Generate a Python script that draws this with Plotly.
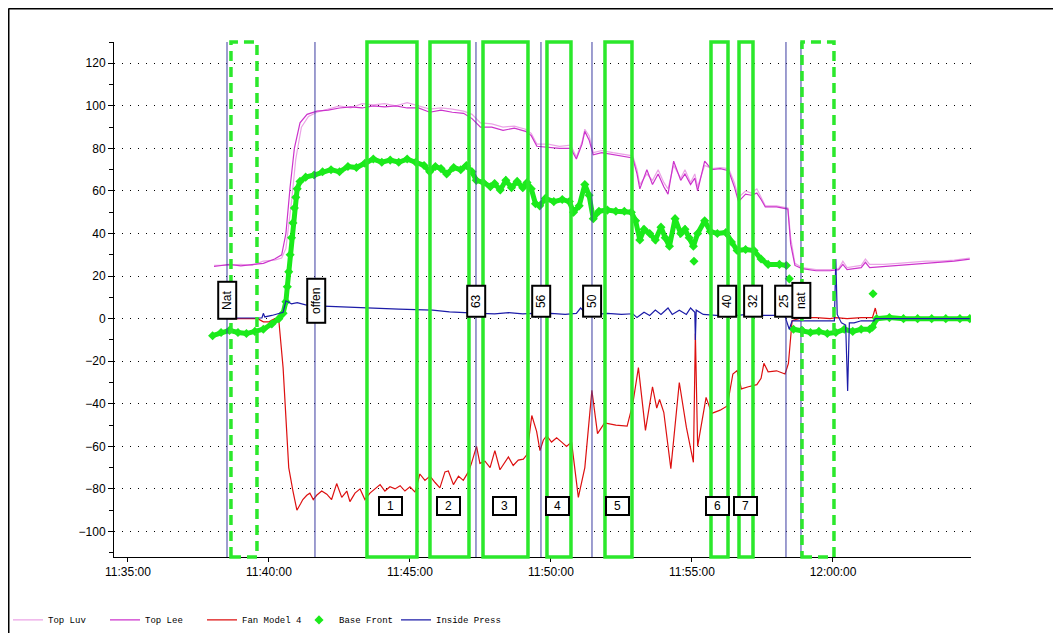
import plotly.graph_objects as go
import pandas as pd

# ---------------- data (times in minutes after 11:00) ----------------
top_lee_min = [38.05, 38.6, 39.0, 39.4, 39.8, 40.2, 40.45, 40.6, 40.75, 40.9, 41.1, 41.35, 41.7, 42.1, 42.5, 42.9,
               43.3, 43.7, 44.1, 44.5, 44.9, 45.3, 45.7, 46.1, 46.5, 46.9, 47.2, 47.5, 47.9, 48.3, 48.7, 49.1,
               49.3, 49.5, 49.9, 50.3, 50.7, 50.9, 51.1, 51.2, 51.35, 51.5, 51.8, 52.2, 52.6, 52.9, 53.05, 53.15,
               53.4, 53.6, 53.8, 54.0, 54.15, 54.35, 54.6, 54.75, 54.95, 55.1, 55.2, 55.45, 55.7, 56.0, 56.3,
               56.5, 56.65, 56.9, 57.1, 57.3, 57.45, 57.6, 58.0, 58.4, 58.5, 58.65, 58.9, 59.4, 59.9, 60.2,
               60.35, 60.5, 61.0, 61.15, 61.3, 61.8, 62.3, 62.8, 63.3, 63.8, 64.3, 64.85]
top_lee_val = [24.5, 25.5, 24.8, 25.5, 26, 28, 30, 40, 62, 80, 92, 96, 97.5, 98, 99, 99.5,
               99, 100, 99.5, 100, 99, 99, 97, 98, 97, 96.5, 94, 90, 90, 88.5, 89.5, 88,
               86, 81, 80.5, 80, 80, 75, 82, 88, 84, 77, 78, 77, 76, 75.5, 68, 61,
               70, 63, 68, 62, 58.5, 74, 65, 68, 63, 66, 60, 74, 70, 70.5, 69.5,
               62, 55, 58.5, 58, 59, 56, 52.5, 52.5, 51.5, 35, 25, 23.5, 22.5, 22.5, 23,
               25.5, 23, 24, 26.5, 24, 24.5, 25, 25.5, 26, 26.5, 27, 28]

top_luv_min = [38.05, 38.6, 39.0, 39.4, 39.8, 40.2, 40.45, 40.6, 40.8, 40.95, 41.15, 41.4, 41.7, 42.1, 42.5, 42.9,
               43.3, 43.7, 44.1, 44.5, 44.9, 45.3, 45.7, 46.1, 46.5, 46.9, 47.2, 47.5, 47.9, 48.3, 48.7, 49.1,
               49.3, 49.5, 49.9, 50.3, 50.7, 50.9, 51.1, 51.2, 51.35, 51.5, 51.8, 52.2, 52.6, 52.9, 53.05, 53.15,
               53.4, 53.6, 53.8, 54.0, 54.15, 54.35, 54.6, 54.75, 54.95, 55.1, 55.2, 55.45, 55.7, 56.0, 56.3,
               56.5, 56.65, 56.9, 57.1, 57.3, 57.45, 57.6, 58.0, 58.4, 58.5, 58.65, 58.9, 59.4, 59.9, 60.2,
               60.35, 60.5, 61.0, 61.15, 61.3, 61.8, 62.3, 62.8, 63.3, 63.8, 64.3, 64.85]
top_luv_val = [25, 25, 25.5, 25, 27, 27.5, 28.5, 33, 55, 75, 90, 95, 97, 98.5, 100, 99,
               101, 100.5, 101, 100, 101.5, 100, 98.5, 99, 98.5, 97.5, 96, 92, 91.5, 90, 90.5, 89,
               87, 82, 82, 81, 81.5, 76, 83, 89, 86, 78, 79, 78, 77, 76.5, 70, 63,
               68, 65, 70, 64, 61, 72, 66, 70, 64, 68, 62, 72, 70.5, 71, 70.5,
               64, 57, 60, 59, 61, 57, 53, 53, 52, 38, 26, 24, 23, 23, 23.5,
               27, 24, 25, 28, 25.5, 25.5, 26, 26.5, 27, 27, 27.5, 28.5]

fan_min = [38.55, 39.0, 39.6, 39.8, 40.0, 40.2, 40.35, 40.5, 40.7, 40.85,
           40.99, 41.12, 41.2, 41.34, 41.45, 41.57, 41.69, 41.87, 42.05, 42.22, 42.4, 42.58, 42.76, 42.87,
           43.05, 43.23, 43.4, 43.58, 43.76, 43.94, 44.11, 44.29, 44.47, 44.65, 44.82, 45.0, 45.18, 45.35,
           45.53, 45.71, 45.89, 46.06, 46.24, 46.36, 46.54, 46.72, 46.89, 47.07, 47.18, 47.36, 47.48, 47.66,
           47.84, 48.01, 48.19, 48.37, 48.49, 48.66, 48.84, 49.02, 49.14, 49.23, 49.32, 49.49, 49.61, 49.73,
           49.85, 50.02, 50.2, 50.38, 50.55, 50.73, 50.85, 50.97, 51.2, 51.45, 51.65,
           51.9, 52.3, 52.7, 52.9, 53.1, 53.35,
           53.6, 53.75, 53.85, 54.0, 54.25, 54.55, 54.8, 55.05, 55.12, 55.2, 55.5, 55.7, 56.0, 56.25, 56.45,
           56.6, 56.75, 57.0, 57.3, 57.45, 57.55, 57.7, 58.0, 58.3, 58.42, 58.55, 58.9, 59.4, 59.9, 60.1,
           60.5, 61.0, 61.4, 61.5, 61.55]
fan_val = [0, 0, 0, -1.5, -1.5, 0, -1, -23, -70, -81,
           -90, -87, -85, -83, -82, -85, -83, -81, -82.5, -85, -77.5, -84, -81, -86,
           -82, -80, -85, -82, -80, -78, -81, -79, -80, -78.5, -81, -79, -81.5, -73,
           -76, -74, -77, -79.5, -72, -71.6, -78, -74, -76, -72, -68, -60, -68, -67,
           -70, -62, -71, -67, -65, -69, -66.5, -66, -64, -55, -45.5, -53, -62, -57,
           -55, -58, -56, -58, -60, -58, -70, -84, -70, -33.7, -54,
           -49, -50, -50.5, -40, -23, -52.5,
           -32, -42, -38, -44, -70.5, -30, -51, -67.5, -7, -60, -37, -44.5, -43, -41, -26,
           -24.4, -33, -32, -31, -28, -21, -25, -24.5, -26, -21, -1, 0.5, 0.5, 0, 0.5,
           0, 0.5, 0.5, 5, 2]

base_min = [38.0, 38.3, 38.6, 38.9, 39.2, 39.5, 39.8, 40.1, 40.35, 40.5, 40.6, 40.65, 40.7, 40.75, 40.8, 40.85,
            40.9, 40.95, 41.0, 41.1, 41.3, 41.6, 41.9, 42.2, 42.5, 42.8, 43.1, 43.4, 43.7, 44.0, 44.3, 44.6,
            44.9, 45.2, 45.5, 45.7, 45.9, 46.1, 46.3, 46.55, 46.8, 47.0, 47.2, 47.35, 47.6, 47.85, 48.0, 48.2,
            48.4, 48.6, 48.8, 49.0, 49.15, 49.3, 49.45, 49.6, 49.8, 50.1, 50.4, 50.65, 50.8, 51.0, 51.2, 51.35,
            51.5, 51.7, 52.0, 52.3, 52.6, 52.85, 53.0, 53.15, 53.3, 53.5, 53.7, 53.9, 54.05, 54.2, 54.4, 54.6,
            54.75, 54.9, 55.05, 55.2, 55.45, 55.65, 55.9, 56.2, 56.4, 56.6, 56.9, 57.2, 57.45, 57.7, 58.1, 58.35,
            58.5,
            58.6, 58.9, 59.2, 59.5, 59.8, 60.1, 60.4, 60.7, 61.0, 61.3, 61.4, 61.55, 62.0, 62.5, 63.0, 63.5,
            64.0, 64.5, 64.85]
base_val = [-8, -6.5, -5.5, -6.5, -7, -6, -5, -2.5, 0, 2.5, 8, 15, 22, 30, 38, 45,
            52, 57, 61, 64.5, 66.5, 67.5, 69, 70, 69, 71.5, 71, 73, 75, 73.5, 74.5, 73.5,
            75, 73.5, 72, 69, 71.5, 70.5, 68, 71, 70, 72, 69, 65, 64, 62, 63.5, 60.5,
            65, 61.5, 64.5, 61.5, 64, 61, 54, 53, 56.5, 55, 56, 55, 50, 53, 63, 58,
            47, 50.5, 51, 50.5, 50.5, 50, 46, 37, 42, 40, 37, 43, 38, 34, 47, 40,
            42, 38, 34, 40, 46, 41, 40, 40.5, 36, 32, 32.5, 32, 28, 25.5, 25.5, 25,
            None,
            -5, -5.5, -6.5, -6, -7, -6.5, -5, -6, -5, -5, -4, 0, 0.5, 0, 0, 0,
            0, 0, 0]
base_extra_min = [55.07, 58.45, 61.42]
base_extra_val = [27, 18.7, 11.7]

press_min = [38.6, 39.2, 39.75, 39.8, 39.85, 40.1, 40.35, 40.5, 40.6, 40.8, 41.0, 41.3, 41.7, 42.2, 42.8, 43.4,
             44.0, 44.6, 45.2, 45.8, 46.4, 47.0, 47.5, 48.0, 48.5, 49.0, 49.35, 49.45, 49.6, 50.0, 50.5, 50.9,
             51.05, 51.25, 51.6, 52.0, 52.5, 52.9, 53.05, 53.3, 53.5, 53.7, 53.9, 54.15, 54.3, 54.55, 54.8,
             54.95, 55.1, 55.12, 55.15, 55.4, 55.8, 56.2, 56.6, 57.0, 57.5, 58.0, 58.3, 58.45, 58.55, 58.9,
             59.5, 60.05, 60.1, 60.15, 60.3, 60.45, 60.52, 60.58, 60.75, 61.0, 61.45, 61.5, 62.5, 63.5, 64.85]
press_val = [0.3, 0.3, 0.3, 2.5, 0.8, 1.5, 2.5, 3, 8.4, 7, 7.5, 6.5, 6, 5.8, 5.5, 5,
             4.8, 4.5, 4.2, 4, 3.2, 3, 2.5, 2.2, 2.8, 2.2, 2.5, 0.8, 2, 2.5, 2, 2.5,
             5, 2.3, 2, 2.5, 2, 2.3, 0.5, 3, 1.5, 4, 2, 5, 2, 4, 2,
             5, 3, -10, 4, 2, 1.5, 1.2, 1.5, 2, 1.5, 1.5, 1, -5, -1, -1,
             -1, -1, 28, 2, -2, -3, -34, -2, -2, -1, -1, 0, 0, 0, 0]

# event markers (vertical lines) and labels
event_line_min = [38.511, 41.631, 47.34, 49.645, 51.454, 58.333, 58.865]
tag_labels = ["Nat", "offen", "63", "56", "50", "40", "32", "25", "nat"]
tag_min = [38.511, 41.667, 47.34, 49.645, 51.45, 56.24, 57.16, 58.26, 58.87]
tag_len = [33, 40, 27, 27, 27, 27, 27, 27, 31]
box_labels = ["1", "2", "3", "4", "5", "6", "7"]
box_label_min = [44.326, 46.383, 48.369, 50.248, 52.376, 55.92, 56.915]
box_start_min = [43.475, 45.709, 47.589, 49.858, 51.915, 55.674, 56.667]
box_end_min = [45.248, 47.092, 49.184, 50.709, 52.872, 56.277, 57.163]
dashed_start_min = [38.652, 58.901]
dashed_end_min = [39.574, 60.035]

BASE = pd.Timestamp("2000-01-01 11:00:00")


def T(m):
    return BASE + pd.Timedelta(seconds=round(m * 60, 2))


def TL(ms):
    return [T(m) for m in ms]


LUV = "#EBA3E6"
LEE = "#CC33CC"
RED = "#DD1010"
GRN = "#1BEA1B"
NAVY = "#1C1CA8"
VLINE = "#3C3CA0"
BOXG = "#2BE82B"

fig = go.Figure()
fig.add_trace(go.Scatter(x=TL(top_luv_min), y=top_luv_val, mode="lines", name="Top Luv",
                         line=dict(color=LUV, width=1.2)))
fig.add_trace(go.Scatter(x=TL(top_lee_min), y=top_lee_val, mode="lines", name="Top Lee",
                         line=dict(color=LEE, width=1.2)))
fig.add_trace(go.Scatter(x=TL(fan_min), y=fan_val, mode="lines", name="Fan Model 4",
                         line=dict(color=RED, width=1.2)))
fig.add_trace(go.Scatter(x=TL(base_min), y=base_val, mode="lines", showlegend=False,
                         line=dict(color=GRN, width=5), connectgaps=False, hoverinfo="skip"))
fig.add_trace(go.Scatter(x=TL(base_min), y=base_val, mode="markers", name="Base Front",
                         marker=dict(symbol="diamond", size=7, color=GRN)))
fig.add_trace(go.Scatter(x=TL(base_extra_min), y=base_extra_val, mode="markers", showlegend=False,
                         marker=dict(symbol="diamond", size=7, color=GRN)))
fig.add_trace(go.Scatter(x=TL(press_min), y=press_val, mode="lines", name="Inside Press",
                         line=dict(color=NAVY, width=1.2)))
# blank legend slot so the last legend label is not clipped
fig.add_trace(go.Scatter(x=[None], y=[None], mode="lines", name=" ",
                         line=dict(color="rgba(0,0,0,0)", width=0), hoverinfo="skip"))

# figure geometry (the page adds an 8px body margin)
W, H = 1053, 625
ML, MR, MT, MB = 106, 90, 34, 76
PW, PH = W - ML - MR, H - MT - MB

shapes = []
for m in event_line_min:
    shapes.append(dict(type="line", xref="x", yref="paper", x0=T(m), x1=T(m), y0=0, y1=1,
                       line=dict(color=VLINE, width=1), layer="above"))
for a, b in zip(box_start_min, box_end_min):
    shapes.append(dict(type="rect", xref="x", yref="paper", x0=T(a), x1=T(b), y0=0, y1=1,
                       line=dict(color=BOXG, width=3.5), layer="above"))
for a, b in zip(dashed_start_min, dashed_end_min):
    shapes.append(dict(type="rect", xref="x", yref="paper", x0=T(a), x1=T(b), y0=0, y1=1,
                       line=dict(color=BOXG, width=3.5, dash="10px,6px"), layer="above"))
# outer frame (top and left edge)
fx = (0.5 - ML) / PW
fy = 1 + (MT - 0.5) / PH
shapes.append(dict(type="line", xref="paper", yref="paper", x0=fx, x1=1.2, y0=fy, y1=fy,
                   line=dict(color="black", width=2)))
shapes.append(dict(type="line", xref="paper", yref="paper", x0=fx, x1=fx, y0=fy, y1=-0.2,
                   line=dict(color="black", width=2)))

annotations = []
for lab, m, w in zip(tag_labels, tag_min, tag_len):
    annotations.append(dict(x=T(m), y=8.4, xref="x", yref="y", text=lab, showarrow=False,
                            textangle=-90, width=w, height=14, bgcolor="white",
                            bordercolor="black", borderwidth=2, borderpad=1,
                            font=dict(family="Liberation Sans, Arial", size=12, color="black")))
for lab, m in zip(box_labels, box_label_min):
    annotations.append(dict(x=T(m), y=-88, xref="x", yref="y", text=lab, showarrow=False,
                            width=19, height=14, bgcolor="white",
                            bordercolor="black", borderwidth=2, borderpad=1,
                            font=dict(family="Liberation Sans, Arial", size=12, color="black")))

fig.update_layout(
    width=W, height=H,
    margin=dict(l=ML, r=MR, t=MT, b=MB),
    paper_bgcolor="white", plot_bgcolor="white",
    shapes=shapes, annotations=annotations,
    font=dict(family="Liberation Sans, Arial", size=12, color="black"),
    legend=dict(orientation="h", xref="container", yref="container", x=-0.004, y=0.021,
                xanchor="left", yanchor="middle", entrywidth=52, entrywidthmode="pixels",
                font=dict(family="Liberation Mono, Courier New, monospace", size=9, color="black"),
                bgcolor="rgba(0,0,0,0)", itemwidth=30),
    xaxis=dict(type="date", range=[T(34.504), T(64.894)], tick0=T(35), dtick=300000,
               tickformat="%H:%M:%S", showgrid=False, zeroline=False,
               showline=True, linecolor="black", linewidth=1,
               ticks="outside", ticklen=4, tickcolor="black",
               tickfont=dict(family="Liberation Sans, Arial", size=12, color="black")),
    yaxis=dict(range=[-112, 130], tick0=0, dtick=20, showgrid=True, gridcolor="black",
               gridwidth=1, griddash="1px,7px", zeroline=False,
               showline=True, linecolor="black", linewidth=1,
               ticks="outside", ticklen=5, tickcolor="black",
               minor=dict(dtick=10, ticks="outside", ticklen=4, tickcolor="black", showgrid=False),
               tickfont=dict(family="Liberation Sans, Arial", size=12, color="black")),
    showlegend=True,
)

fig.write_html("out.html")
